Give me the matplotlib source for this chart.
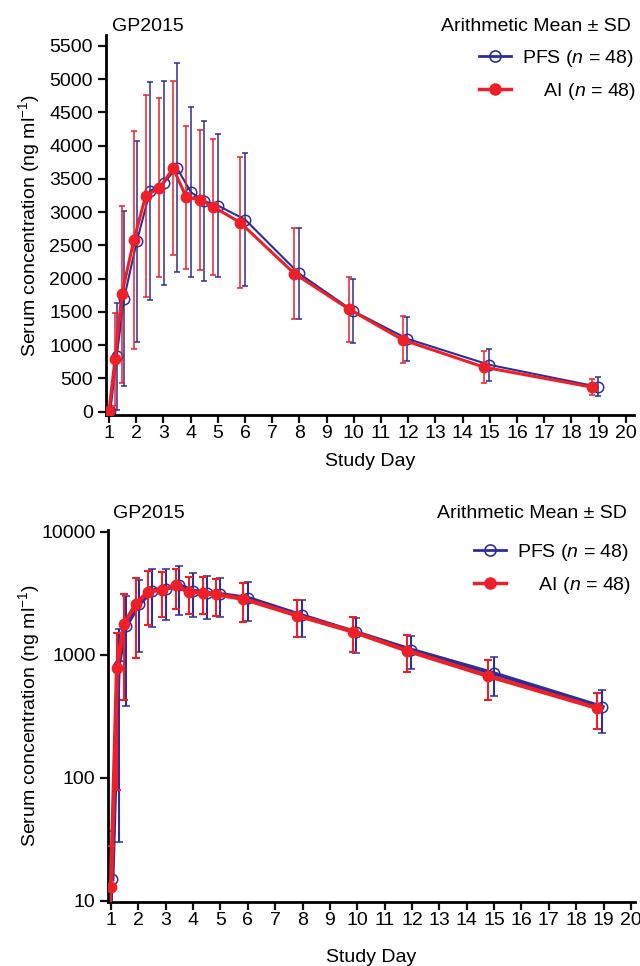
import numpy as np
import matplotlib
matplotlib.use('Agg')
import matplotlib.pyplot as plt
from matplotlib.lines import Line2D
from matplotlib.ticker import FixedLocator, NullLocator, FixedFormatter

plt.rcParams['font.family'] = ['Liberation Sans', 'DejaVu Sans']
plt.rcParams['mathtext.fontset'] = 'custom'
plt.rcParams['mathtext.rm'] = 'Liberation Sans'
plt.rcParams['mathtext.it'] = 'Liberation Sans:italic'

# sampling day of each point (PFS at nominal time, AI drawn slightly to the left)
pfs_day = [1.05, 1.28, 1.55, 2.02, 2.51, 3.01, 3.49, 4.01, 4.5, 5.0, 6.0, 7.98, 9.97, 11.97, 14.98, 18.96]
ai_day = [1.0, 1.22, 1.47, 1.91, 2.35, 2.85, 3.36, 3.84, 4.35, 4.83, 5.83, 7.81, 9.83, 11.8, 14.78, 18.77]

# arithmetic mean and SD of serum concentration (ng/ml)
pfs_mean = [15, 830, 1700, 2560, 3320, 3435, 3670, 3300, 3165, 3100, 2890, 2080, 1515, 1095, 705, 375]
pfs_sd = [22, 800, 1315, 1515, 1640, 1535, 1570, 1275, 1205, 1080, 1005, 683, 482, 335, 245, 145]
ai_mean = [13, 785, 1765, 2578, 3248, 3365, 3660, 3225, 3187, 3083, 2842, 2078, 1540, 1080, 670, 368]
ai_sd = [15, 705, 1335, 1640, 1520, 1345, 1310, 1075, 1050, 1025, 987, 680, 485, 352, 240, 120]

day_ticks = list(range(1, 21))
lin_ticks = list(range(0, 5501, 500))
log_ticks = [10, 100, 1000, 10000]

blue = '#2e2e98'
red = '#ee1f26'
FS = 14

W, H = 640, 966
fig = plt.figure(figsize=(W / 100, H / 100), dpi=100)


def px(x0, y_top, x1, y_bot):
    # axes rectangle from pixel edges
    return [x0 / W, 1 - y_bot / H, (x1 - x0) / W, (y_bot - y_top) / H]


def draw(ax, lw_pfs, lw_ai, elw, cap):
    ax.errorbar(pfs_day, pfs_mean, yerr=pfs_sd, color=blue, lw=lw_pfs,
                elinewidth=elw, capsize=cap, capthick=elw,
                marker='o', ms=7.5, mfc='none', mec=blue, mew=1.1, zorder=2)
    ax.errorbar(ai_day, ai_mean, yerr=ai_sd, color=red, lw=lw_ai,
                elinewidth=elw, capsize=cap, capthick=elw,
                marker='o', ms=7.5, mfc=red, mec=red, zorder=3)
    for s in ['top', 'right']:
        ax.spines[s].set_visible(False)
    for s in ['left', 'bottom']:
        ax.spines[s].set_linewidth(2)
    ax.tick_params(direction='out', length=5.5, width=1.6, labelsize=FS,
                   color='#111111')
    ax.tick_params(axis='x', pad=2)
    ax.tick_params(axis='y', pad=3.5)
    ax.set_xticks(day_ticks)
    ax.set_xlabel('Study Day', fontsize=FS, va='top')
    ax.set_ylabel('Serum concentration (ng ml$^{-1}$)', fontsize=FS)


def legend(ax, x, y):
    handles = [
        Line2D([], [], color=blue, lw=2, marker='o', ms=8, mfc='none', mec=blue, mew=1.2),
        Line2D([], [], color=red, lw=2.5, marker='o', ms=8, mfc=red, mec=red),
    ]
    labels = ['PFS ($n$ = 48)', '    AI ($n$ = 48)']
    ax.legend(handles, labels, loc='upper right', bbox_to_anchor=(x / W, 1 - y / H),
              bbox_transform=fig.transFigure, frameon=False, fontsize=FS,
              borderpad=0, borderaxespad=0, handlelength=1.65, handletextpad=0.55,
              labelspacing=0.6)


# linear panel
ax1 = fig.add_axes(px(105.5, 35, 634, 415))
draw(ax1, 1.5, 2.2, 1.1, 2.4)
ax1.set_xlim(0.87, 20.3)
ax1.set_ylim(-50, 5665)
ax1.set_yticks(lin_ticks)
ax1.yaxis.set_label_coords(-0.12, 0.5)
ax1.xaxis.set_label_coords(0.5, -0.1)
legend(ax1, 636, 48)
fig.text(112 / W, 1 - 31 / H, 'GP2015', fontsize=FS, ha='left', va='baseline')
fig.text(631 / W, 1 - 31 / H, 'Arithmetic Mean \u00b1 SD', fontsize=FS, ha='right', va='baseline')

# log panel
ax2 = fig.add_axes(px(108, 529.5, 635, 902))
draw(ax2, 3, 3, 1.5, 2.8)
ax2.set_yscale('log')
ax2.set_xlim(0.89, 20.15)
ax2.set_ylim(9.75, 10400)
ax2.yaxis.set_major_locator(FixedLocator(log_ticks))
ax2.yaxis.set_major_formatter(FixedFormatter([str(t) for t in log_ticks]))
ax2.yaxis.set_minor_locator(NullLocator())
ax2.yaxis.set_label_coords(-0.125, 0.5)
ax2.xaxis.set_label_coords(0.5, -0.125)
legend(ax2, 631, 542)
fig.text(113 / W, 1 - 518 / H, 'GP2015', fontsize=FS, ha='left', va='baseline')
fig.text(627 / W, 1 - 518 / H, 'Arithmetic Mean \u00b1 SD', fontsize=FS, ha='right', va='baseline')

fig.savefig('out.png', dpi=100)
